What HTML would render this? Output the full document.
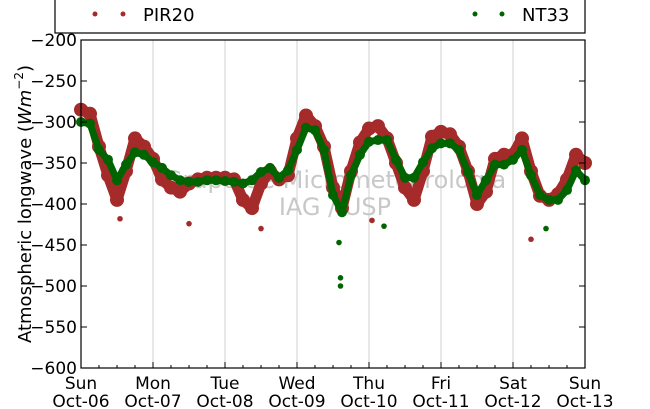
<!DOCTYPE html>
<html><head><meta charset="utf-8"><style>
body{margin:0;background:#fff;font-family:"DejaVu Sans","Liberation Sans",sans-serif}
svg{display:block}
</style></head><body>
<svg width="650" height="409">
<rect x="55" y="-5" width="530" height="38" fill="#fff" stroke="#000" stroke-width="1.2"/>
<g>
<circle cx="95" cy="14" r="2.5" fill="#a52a2a"/><circle cx="123" cy="14" r="2.5" fill="#a52a2a"/>
<text x="143" y="21" font-size="18">PIR20</text></g>
<g>
<circle cx="475" cy="14" r="2.5" fill="#006400"/><circle cx="502" cy="14" r="2.5" fill="#006400"/>
<text x="522" y="21" font-size="18">NT33</text></g>
<g id="grid"></g>
<text x="335" y="188" font-size="24" fill="#c8c8c8" text-anchor="middle">Grupo de Micrometeorologia</text>
<text x="335" y="215" font-size="24" fill="#c8c8c8" text-anchor="middle">IAG / USP</text>
<g id="series"></g>
<rect x="81" y="40" width="504" height="328" fill="none" stroke="#000" stroke-width="1.2"/>
<g id="axes"></g>
<text transform="translate(31,204) rotate(-90)" font-size="18" text-anchor="middle">Atmospheric longwave (<tspan font-style="italic">Wm</tspan><tspan font-size="12" dy="-8">−2</tspan><tspan dy="8">)</tspan></text>
</svg>
<script>
const hours=[0,3,6,9,12,15,18,21,24,27,30,33,36,39,42,45,48,51,54,57,60,63,66,69,72,75,78,81,84,87,90,93,96,99,102,105,108,111,114,117,120,123,126,129,132,135,138,141,144,147,150,153,156,159,162,165,168];
const pir20=[-285,-290,-330,-365,-395,-360,-320,-330,-345,-370,-380,-385,-375,-370,-368,-368,-368,-370,-395,-405,-375,-360,-370,-365,-320,-292,-305,-330,-380,-405,-360,-325,-308,-305,-320,-350,-380,-395,-360,-318,-312,-315,-330,-360,-400,-385,-345,-340,-340,-320,-360,-390,-395,-388,-370,-340,-350];
const nt33=[-300,-302,-334,-346,-371,-352,-337,-340,-349,-356,-365,-371,-373,-373,-371,-371,-372,-373,-375,-371,-361,-356,-368,-359,-334,-307,-310,-334,-389,-410,-365,-340,-324,-322,-322,-346,-368,-368,-349,-332,-326,-326,-334,-361,-389,-371,-352,-352,-346,-334,-365,-389,-395,-395,-383,-359,-371];
const pirOutHours=[13,36,60,97,150];
const pirOutVals=[-418,-424,-430,-420,-443];
const ntOutHours=[86,86.5,86.5,101,155];
const ntOutVals=[-447,-490,-500,-427,-430];
const yTicks=[-200,-250,-300,-350,-400,-450,-500,-550,-600];
const dayNames=["Sun","Mon","Tue","Wed","Thu","Fri","Sat","Sun"];
const dayDates=["Oct-06","Oct-07","Oct-08","Oct-09","Oct-10","Oct-11","Oct-12","Oct-13"];
const X=h=>81+h*504/168, Y=v=>40+(-200-v)*328/400;
const NS="http://www.w3.org/2000/svg";
function mk(tag,attrs,parent){const e=document.createElementNS(NS,tag);for(const k in attrs)e.setAttribute(k,attrs[k]);parent.appendChild(e);return e;}
const grid=document.getElementById('grid'),ser=document.getElementById('series'),ax=document.getElementById('axes');
for(let h=6;h<168;h+=6){if(h%24===0)continue;const x=X(h);
 const m=mk('line',{x1:x,x2:x,y1:368,y2:365,stroke:'#000'},ax);
 
 }
dayNames.forEach((d,i)=>{const x=X(i*24);
 if(i>0&&i<7){const l=mk('line',{x1:x,x2:x,y1:40,y2:368,stroke:'#d0d0d0','stroke-width':1},grid);
 
 }
 const t=mk('line',{x1:x,x2:x,y1:368,y2:362,stroke:'#000'},ax);
 
 
 const a=mk('text',{x:x,y:389,'font-size':17,'text-anchor':'middle'},ax);a.textContent=d;
 
 
 const b=mk('text',{x:x,y:407,'font-size':17,'text-anchor':'middle'},ax);b.textContent=dayDates[i];
 
 });
yTicks.forEach(v=>{const y=Y(v);
 const t=mk('line',{x1:81,x2:87,y1:y,y2:y,stroke:'#000'},ax);
 
 
 const t2=mk('line',{x1:585,x2:579,y1:y,y2:y,stroke:'#000'},ax);
 
 
 const l=mk('text',{x:77,y:y+6,'font-size':17,'text-anchor':'end'},ax);l.textContent=String(v).replace('-','−');
 
 });
function drawSeries(vals,color,w,name){
 const p=mk('polyline',{points:hours.map((h,i)=>X(h)+','+Y(vals[i])).join(' '),fill:'none',stroke:color,'stroke-width':w,'stroke-linejoin':'round','stroke-linecap':'round'},ser);
 
 
 hours.forEach((h,i)=>{const c=mk('circle',{cx:X(h),cy:Y(vals[i]),r:w/2+1.5,fill:color},ser);
 
 });}
function drawOut(hs,vs,color,name){hs.forEach((h,i)=>{const c=mk('circle',{cx:X(h),cy:Y(vs[i]),r:2.8,fill:color},ser);
 
 });}
drawSeries(pir20,'#a52a2a',11,'pir20');
drawOut(pirOutHours,pirOutVals,'#a52a2a','pir20');
drawSeries(nt33,'#006400',7,'nt33');
drawOut(ntOutHours,ntOutVals,'#006400','nt33');
</script>
</body></html>
